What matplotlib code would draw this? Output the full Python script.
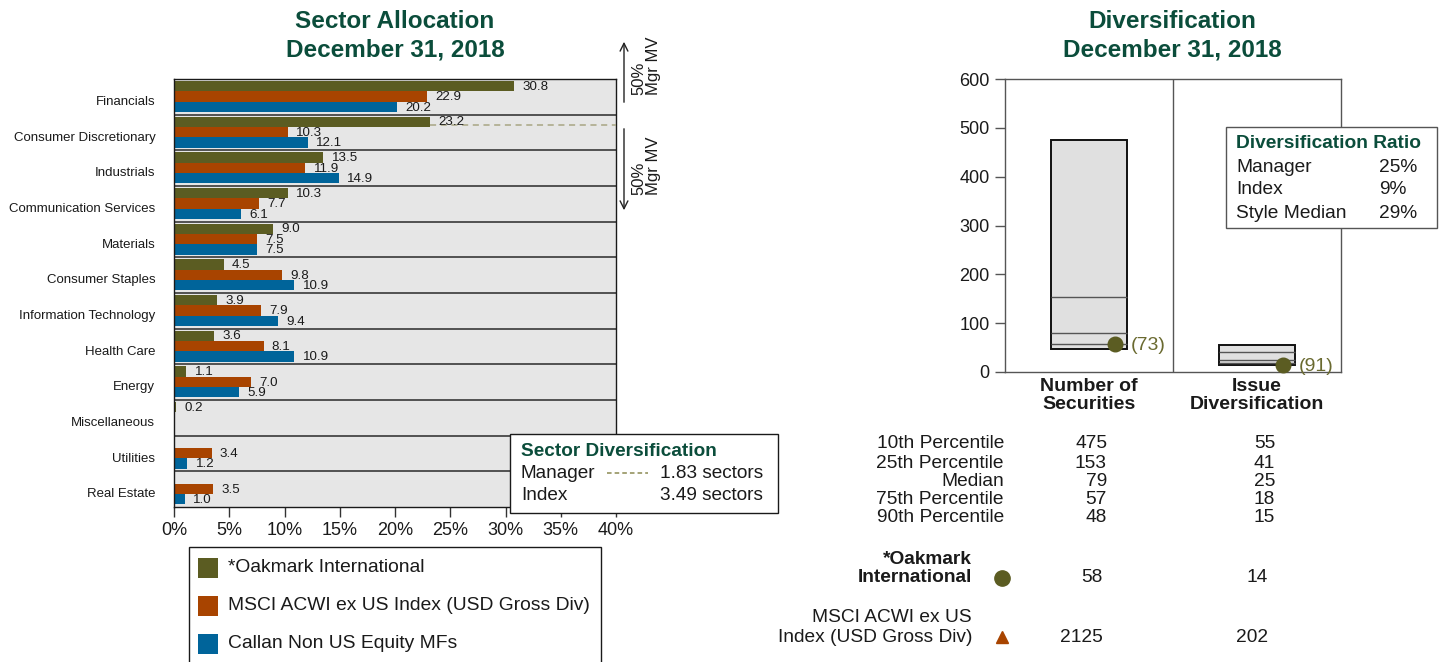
import matplotlib
matplotlib.use("Agg")
import matplotlib.pyplot as plt
from matplotlib.patches import Rectangle, FancyArrowPatch
from matplotlib.lines import Line2D
import numpy as np

plt.rcParams['font.family'] = ['Liberation Sans', 'DejaVu Sans']

# ---------------- data ----------------
sectors = ["Financials", "Consumer Discretionary", "Industrials",
           "Communication Services", "Materials", "Consumer Staples",
           "Information Technology", "Health Care", "Energy",
           "Miscellaneous", "Utilities", "Real Estate"]
oakmark = [30.8, 23.2, 13.5, 10.3, 9.0, 4.5, 3.9, 3.6, 1.1, 0.2, None, None]
msci = [22.9, 10.3, 11.9, 7.7, 7.5, 9.8, 7.9, 8.1, 7.0, None, 3.4, 3.5]
callan = [20.2, 12.1, 14.9, 6.1, 7.5, 10.9, 9.4, 10.9, 5.9, None, 1.2, 1.0]
series_names = ["*Oakmark International",
                "MSCI ACWI ex US Index (USD Gross Div)",
                "Callan Non US Equity MFs"]
x_ticks = [0, 5, 10, 15, 20, 25, 30, 35, 40]

sector_div_labels = ["Manager", "Index"]
sector_div_values = ["1.83 sectors", "3.49 sectors"]
half_mv_level = 23.2  # manager weight where cumulative MV passes 50%

div_categories = ["Number of\nSecurities", "Issue\nDiversification"]
pct_labels = ["10th Percentile", "25th Percentile", "Median",
              "75th Percentile", "90th Percentile"]
p10 = [475, 55]
p25 = [153, 41]
p50 = [79, 25]
p75 = [57, 18]
p90 = [48, 15]
manager_div = [58, 14]
manager_rank = [73, 91]
index_div = [2125, 202]
div_y_ticks = [0, 100, 200, 300, 400, 500, 600]

ratio_labels = ["Manager", "Index", "Style Median"]
ratio_values = ["25%", "9%", "29%"]

# ---------------- styling ----------------
OLIVE = "#5b5c22"
ORANGE = "#a84400"
BLUE = "#00649a"
GREEN = "#0b4d3b"
TXT = "#1a1a1a"
colors = [OLIVE, ORANGE, BLUE]
FS = 13.8

W, H = 1442, 662
fig = plt.figure(figsize=(W / 100, H / 100), dpi=100)
fig.patch.set_facecolor("white")


def fx(x):
    return x / W


def fy(y):
    return 1 - y / H


def txt(x, y, s, **kw):
    kw.setdefault("va", "center")
    kw.setdefault("color", TXT)
    return fig.text(fx(x), fy(y), s, **kw)


# ---------------- Sector allocation ----------------
ax1 = fig.add_axes([fx(174), fy(507), 442 / W, 428 / H])
ax1.set_xlim(0, 40)
ax1.set_ylim(len(sectors), 0)
ax1.set_facecolor("#e6e6e6")

offsets = [0.2, 0.49, 0.78]
bar_h = 0.29
for vals, off, col in zip([oakmark, msci, callan], offsets, colors):
    for i, v in enumerate(vals):
        if v is None:
            continue
        ax1.barh(i + off, v, height=bar_h, color=col, zorder=2)
        ax1.annotate(f"{v:.1f}", (v, i + off), xytext=(6, -0.5),
                     textcoords="offset points", va="center", ha="left",
                     fontsize=9.6, color=TXT, zorder=4)

for k in range(1, len(sectors)):
    ax1.axhline(k, color="#2a2a2a", lw=1.1, zorder=1)

ax1.plot([half_mv_level, 40], [1.3, 1.3], ls=(0, (4, 3)), color="#a8a683",
         lw=1.1, zorder=3)

ax1.set_yticks([i + 0.6 for i in range(len(sectors))])
ax1.set_yticklabels(sectors, fontsize=9.5, color=TXT)
ax1.tick_params(axis="y", length=0, pad=13.5)
ax1.set_xticks(x_ticks)
ax1.set_xticklabels([f"{t}%" for t in x_ticks], fontsize=13, color=TXT)
ax1.tick_params(axis="x", direction="out", length=7, width=1, pad=3.5,
                color="#333")
for sp in ax1.spines.values():
    sp.set_color("#1a1a1a")
    sp.set_linewidth(1)

txt(395, 22, "Sector Allocation", ha="center", fontsize=17.5,
    fontweight="bold", color=GREEN)
txt(395, 50, "December 31, 2018", ha="center", fontsize=17.5,
    fontweight="bold", color=GREEN)

# 50% of manager market value markers
fig.add_artist(FancyArrowPatch(
    (fx(624), fy(105)), (fx(624), fy(39)), transform=fig.transFigure,
    arrowstyle="->", mutation_scale=14, lw=1, color="#222"))
fig.add_artist(FancyArrowPatch(
    (fx(624), fy(126)), (fx(624), fy(213)), transform=fig.transFigure,
    arrowstyle="->", mutation_scale=14, lw=1, color="#222"))
txt(646, 66, "50%\nMgr MV", rotation=90, ha="center", fontsize=12,
    multialignment="left", linespacing=0.95)
txt(646, 166, "50%\nMgr MV", rotation=90, ha="center", fontsize=12,
    multialignment="left", linespacing=0.95)

# Sector diversification box
fig.add_artist(Rectangle((fx(510), fy(513)), (778 - 510) / W, (513 - 434) / H,
                         transform=fig.transFigure, facecolor="white",
                         edgecolor="#1a1a1a", lw=1, zorder=5))
txt(521, 451, "Sector Diversification", fontsize=13.7, fontweight="bold",
    color=GREEN, zorder=6)
for lab, val, yy in zip(sector_div_labels, sector_div_values, [473, 496]):
    txt(521, yy, lab, fontsize=13.7, zorder=6)
    txt(763, yy, val, ha="right", fontsize=13.7, zorder=6)
fig.add_artist(Line2D([fx(607), fx(648)], [fy(473), fy(473)],
                      transform=fig.transFigure, ls=(0, (3, 2)),
                      color="#8c8a52", lw=1.1, zorder=6))

# Legend
fig.add_artist(Rectangle((fx(189), fy(672)), (601 - 189) / W, (672 - 547) / H,
                         transform=fig.transFigure, facecolor="white",
                         edgecolor="#1a1a1a", lw=1, zorder=5))
for name, col, yy in zip(series_names, colors, [568, 606, 644]):
    fig.add_artist(Rectangle((fx(198), fy(yy + 10)), 20 / W, 20 / H,
                             transform=fig.transFigure, facecolor=col,
                             edgecolor="none", zorder=6))
    txt(228, yy, name, fontsize=13.9, zorder=6)

# ---------------- Diversification ----------------
ax2 = fig.add_axes([fx(1005), fy(372), 336 / W, 293 / H])
ax2.set_xlim(0, 2)
ax2.set_ylim(0, 600)
xpos = np.array([0.5, 1.5])
bw = 0.45
low = np.array(p90)
high = np.array(p10)
ax2.bar(xpos, high - low, bottom=low, width=bw, color="#e0e0e0",
        edgecolor="#111", lw=1.4, zorder=2)
for lvl in [p25, p50, p75]:
    ax2.hlines(lvl, xpos - bw / 2, xpos + bw / 2, color="#555", lw=1,
               zorder=3)
ax2.axvline(1, color="#555", lw=1, zorder=1)

mx = xpos + 0.155
ax2.plot(mx, manager_div, "o", color=OLIVE, ms=10.5, zorder=5,
         clip_on=False)
for xv, yv, r in zip(mx, manager_div, manager_rank):
    ax2.annotate(f"({r})", (xv, yv), xytext=(11, -1),
                 textcoords="offset points", va="center", ha="left",
                 fontsize=14, color="#6a6a30", zorder=6,
                 annotation_clip=False)

ax2.set_yticks(div_y_ticks)
ax2.set_yticklabels([str(t) for t in div_y_ticks], fontsize=13, color=TXT)
ax2.tick_params(axis="y", direction="out", length=7, width=1, pad=4,
                color="#555")
ax2.set_xticks(xpos)
ax2.set_xticklabels(div_categories, fontsize=14, fontweight="bold",
                    color=TXT)
ax2.tick_params(axis="x", length=0, pad=4)
for lbl in ax2.get_xticklabels():
    lbl.set_linespacing(1.08)
for sp in ax2.spines.values():
    sp.set_color("#555")
    sp.set_linewidth(1)

txt(1172, 22, "Diversification", ha="center", fontsize=17.5,
    fontweight="bold", color=GREEN)
txt(1172, 50, "December 31, 2018", ha="center", fontsize=17.5,
    fontweight="bold", color=GREEN)

# Diversification ratio box
fig.add_artist(Rectangle((fx(1226), fy(228)), (1437 - 1226) / W,
                         (228 - 127) / H, transform=fig.transFigure,
                         facecolor="white", edgecolor="#555", lw=1,
                         zorder=5))
txt(1236, 143, "Diversification Ratio", fontsize=FS, fontweight="bold",
    color=GREEN, zorder=6)
for lab, val, yy in zip(ratio_labels, ratio_values, [167, 190, 213]):
    txt(1236, yy, lab, fontsize=FS, zorder=6)
    txt(1379, yy, val, fontsize=FS, zorder=6)

# Percentile table
rows_y = [444, 463, 481, 500, 518]
table = np.array([p10, p25, p50, p75, p90])
for lab, (a, b), yy in zip(pct_labels, table, rows_y):
    txt(1004, yy, lab, ha="right", fontsize=FS)
    txt(1107, yy, str(a), ha="right", fontsize=FS)
    txt(1275, yy, str(b), ha="right", fontsize=FS)

txt(972, 560, "*Oakmark", ha="right", fontsize=FS, fontweight="bold")
txt(972, 578, "International", ha="right", fontsize=FS, fontweight="bold")
fig.add_artist(Line2D([fx(1002)], [fy(578)], transform=fig.transFigure,
                      marker="o", ms=11, color=OLIVE, ls="none"))
txt(1103, 578, str(manager_div[0]), ha="right", fontsize=FS)
txt(1268, 578, str(manager_div[1]), ha="right", fontsize=FS)

txt(972, 617, "MSCI ACWI ex US", ha="right", fontsize=FS)
txt(972, 637, "Index (USD Gross Div)", ha="right", fontsize=FS)
fig.add_artist(Line2D([fx(1002)], [fy(637)], transform=fig.transFigure,
                      marker="^", ms=9, color=ORANGE, ls="none"))
txt(1103, 637, str(index_div[0]), ha="right", fontsize=FS)
txt(1268, 637, str(index_div[1]), ha="right", fontsize=FS)

fig.savefig("out.png", dpi=100, facecolor="white")
